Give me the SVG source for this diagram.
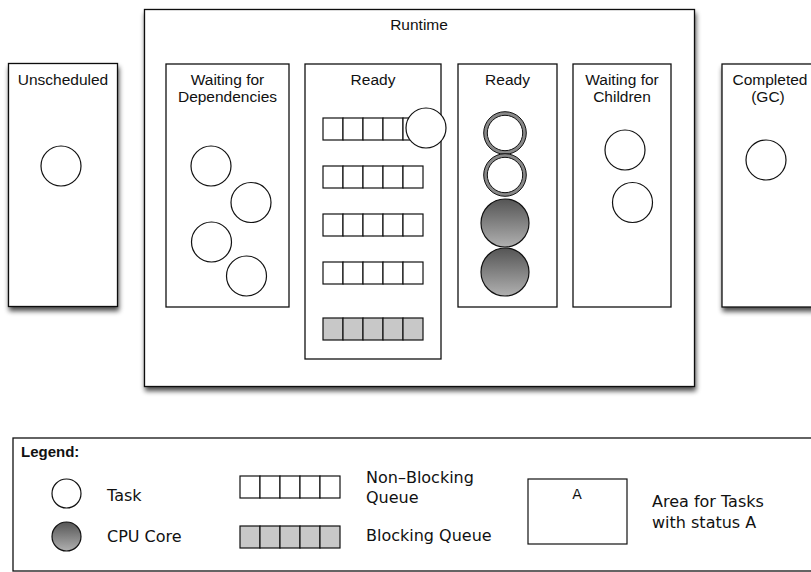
<svg xmlns="http://www.w3.org/2000/svg" xmlns:xlink="http://www.w3.org/1999/xlink" width="811" height="572" viewBox="0 0 811 572">
<style>
.box{fill:#fff;stroke:#111;stroke-width:1.3}
.t{font-family:"Liberation Sans",Arial,Helvetica,sans-serif;font-size:15.5px;fill:#111;text-anchor:middle}
.lg{font-family:"DejaVu Sans","Liberation Sans",sans-serif;font-size:16px;fill:#111}
.task{fill:#fff;stroke:#111;stroke-width:1.2}
.cpu{fill:url(#gr);stroke:#111;stroke-width:1.2}
.cell{fill:#fff;stroke:#111;stroke-width:1.2}
.bcell{fill:#c8c8c8;stroke:#111;stroke-width:1.2}
</style>
<defs>
<filter id="sh" x="-20%" y="-20%" width="140%" height="140%">
<feGaussianBlur in="SourceAlpha" stdDeviation="2.5"/>
<feOffset dx="1" dy="4" result="b"/>
<feComponentTransfer><feFuncA type="linear" slope="0.7"/></feComponentTransfer>
<feMerge><feMergeNode/><feMergeNode in="SourceGraphic"/></feMerge>
</filter>
<linearGradient id="gr" x1="0" y1="0" x2="0" y2="1">
<stop offset="0" stop-color="#555"/>
<stop offset="1" stop-color="#b0b0b0"/>
</linearGradient>
<g id="nq">
<rect class="cell" x="0" y="0" width="20" height="22"/>
<rect class="cell" x="20" y="0" width="20" height="22"/>
<rect class="cell" x="40" y="0" width="20" height="22"/>
<rect class="cell" x="60" y="0" width="20" height="22"/>
<rect class="cell" x="80" y="0" width="20" height="22"/>
</g>
<g id="bq">
<rect class="bcell" x="0" y="0" width="20" height="22"/>
<rect class="bcell" x="20" y="0" width="20" height="22"/>
<rect class="bcell" x="40" y="0" width="20" height="22"/>
<rect class="bcell" x="60" y="0" width="20" height="22"/>
<rect class="bcell" x="80" y="0" width="20" height="22"/>
</g>
<g id="ring">
<circle r="19.5" fill="#fff" stroke="#888" stroke-width="3.6"/>
<circle r="21.3" fill="none" stroke="#111" stroke-width="1"/>
<circle r="17.7" fill="none" stroke="#111" stroke-width="1"/>
</g>
</defs>

<g id="unscheduled">
<rect class="box" x="8.5" y="63.5" width="109" height="243" filter="url(#sh)"/>
<text class="t" x="63" y="85">Unscheduled</text>
<circle class="task" cx="61" cy="166" r="20"/>
</g>

<g id="runtime">
<rect class="box" x="144.5" y="9.5" width="550" height="377" filter="url(#sh)"/>
<text class="t" x="419" y="30">Runtime</text>
</g>

<g id="waiting-deps">
<rect class="box" x="166" y="64" width="123" height="243"/>
<text class="t" x="227.5" y="85">Waiting for</text>
<text class="t" x="227.5" y="101.5">Dependencies</text>
<circle class="task" cx="211" cy="166" r="20"/>
<circle class="task" cx="251" cy="202.5" r="20"/>
<circle class="task" cx="211.5" cy="242" r="20"/>
<circle class="task" cx="246.5" cy="276" r="20"/>
</g>

<g id="ready-queues">
<rect class="box" x="305" y="64" width="136" height="295"/>
<text class="t" x="373" y="85">Ready</text>
<use xlink:href="#nq" x="323" y="118"/>
<use xlink:href="#nq" x="323" y="166"/>
<use xlink:href="#nq" x="323" y="214"/>
<use xlink:href="#nq" x="323" y="262"/>
<use xlink:href="#bq" x="323" y="318"/>
<circle class="task" cx="426" cy="128" r="20"/>
</g>

<g id="ready-cores">
<rect class="box" x="458" y="64" width="99" height="243"/>
<text class="t" x="507.5" y="85">Ready</text>
<use xlink:href="#ring" x="505" y="133"/>
<use xlink:href="#ring" x="505" y="175"/>
<circle class="cpu" cx="505" cy="223" r="24"/>
<circle class="cpu" cx="505" cy="272" r="24"/>
</g>

<g id="waiting-children">
<rect class="box" x="573" y="64" width="98" height="243"/>
<text class="t" x="622" y="85">Waiting for</text>
<text class="t" x="622" y="101.5">Children</text>
<circle class="task" cx="625" cy="150" r="20"/>
<circle class="task" cx="632.5" cy="202.5" r="20"/>
</g>

<g id="completed">
<rect class="box" x="722" y="64" width="100" height="243" filter="url(#sh)"/>
<text class="t" x="770" y="85">Completed</text>
<text class="t" x="768" y="101.5">(GC)</text>
<circle class="task" cx="766" cy="160" r="20"/>
</g>

<g id="connectors"></g>

<g id="legend">
<rect class="box" x="13" y="438" width="810" height="133"/>
<text x="21" y="457" style="font-family:'Liberation Sans',Arial,sans-serif;font-size:15px;font-weight:bold;fill:#111">Legend:</text>
<circle class="task" cx="66.5" cy="493.5" r="14.5"/>
<text class="lg" x="107" y="501">Task</text>
<circle class="cpu" cx="66.5" cy="536.5" r="14.5"/>
<text class="lg" x="107" y="542">CPU Core</text>
<use xlink:href="#nq" x="240" y="476"/>
<text class="lg" x="366" y="483">Non–Blocking</text>
<text class="lg" x="366" y="503">Queue</text>
<use xlink:href="#bq" x="240" y="526"/>
<text class="lg" x="366" y="541">Blocking Queue</text>
<rect class="task" x="528" y="479" width="99" height="65"/>
<text class="lg" x="577" y="499" text-anchor="middle" style="font-size:14px">A</text>
<text class="lg" x="652" y="507">Area for Tasks</text>
<text class="lg" x="652" y="528">with status A</text>
</g>
</svg>
